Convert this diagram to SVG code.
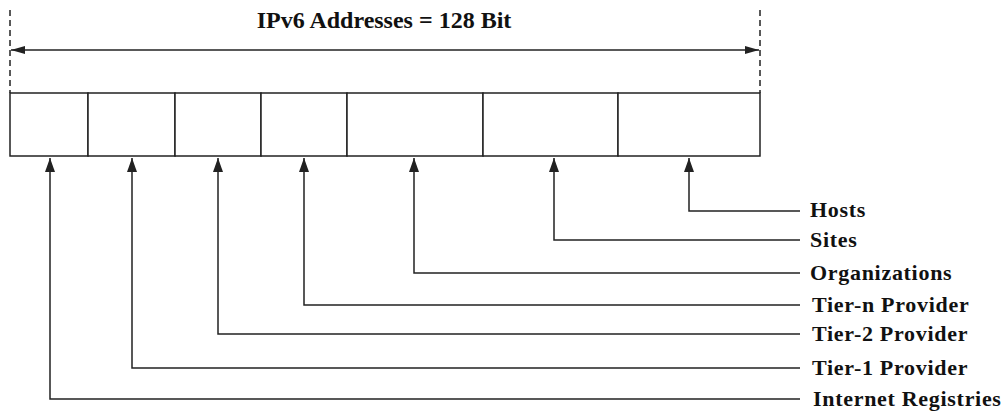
<svg xmlns="http://www.w3.org/2000/svg" width="1007" height="414" viewBox="0 0 1007 414">
<style>
.ln{stroke:#222;stroke-width:1.5;fill:none}
.dash{stroke:#222;stroke-width:1.5;fill:none;stroke-dasharray:6 4}
.box{stroke:#222;stroke-width:1.5;fill:#fff}
.t{font-family:"Liberation Serif","Times New Roman",serif;font-weight:bold;fill:#111}
.lbl{font-size:22px;letter-spacing:0.7px}
.ttl{font-size:24px}
</style>
<defs>
<marker id="up" markerWidth="14" markerHeight="10" refX="14" refY="5" orient="auto-start-reverse" markerUnits="userSpaceOnUse" viewBox="0 0 14 10">
<path d="M0 0 L14 5 L0 10 Z" fill="#222"/>
</marker>
<marker id="h" markerWidth="14" markerHeight="8" refX="14" refY="4" orient="auto-start-reverse" markerUnits="userSpaceOnUse" viewBox="0 0 14 8">
<path d="M0 0 L14 4 L0 8 Z" fill="#222"/>
</marker>
</defs>
<g id="dimension">
<line class="dash" x1="10" y1="10" x2="10" y2="93"/>
<line class="dash" x1="760" y1="10" x2="760" y2="93"/>
<line class="ln" x1="11" y1="50" x2="759" y2="50" marker-start="url(#h)" marker-end="url(#h)"/>
<text class="t ttl" x="384" y="28" text-anchor="middle">IPv6 Addresses = 128 Bit</text>
</g>
<g id="address">
<rect id="f1" class="box" x="10" y="93" width="78" height="63"/>
<rect id="f2" class="box" x="88" y="93" width="87" height="63"/>
<rect id="f3" class="box" x="175" y="93" width="86" height="63"/>
<rect id="f4" class="box" x="261" y="93" width="86" height="63"/>
<rect id="f5" class="box" x="347" y="93" width="136" height="63"/>
<rect id="f6" class="box" x="483" y="93" width="135" height="63"/>
<rect id="f7" class="box" x="618" y="93" width="142" height="63"/>
</g>
<g id="connectors">
<polyline class="ln" points="800,211 689,211 689,158" marker-end="url(#up)"/>
<polyline class="ln" points="800,240 554,240 554,158" marker-end="url(#up)"/>
<polyline class="ln" points="800,273 414,273 414,158" marker-end="url(#up)"/>
<polyline class="ln" points="800,305 304,305 304,158" marker-end="url(#up)"/>
<polyline class="ln" points="800,334 218,334 218,158" marker-end="url(#up)"/>
<polyline class="ln" points="800,368 132,368 132,158" marker-end="url(#up)"/>
<polyline class="ln" points="800,399 50,399 50,158" marker-end="url(#up)"/>
</g>
<g id="labels">
<text class="t lbl" x="810" y="217">Hosts</text>
<text class="t lbl" x="810" y="247">Sites</text>
<text class="t lbl" x="810" y="280">Organizations</text>
<text class="t lbl" x="812" y="312">Tier-n Provider</text>
<text class="t lbl" x="812" y="341">Tier-2 Provider</text>
<text class="t lbl" x="812" y="375">Tier-1 Provider</text>
<text class="t lbl" x="813" y="406">Internet Registries</text>
</g>
</svg>
